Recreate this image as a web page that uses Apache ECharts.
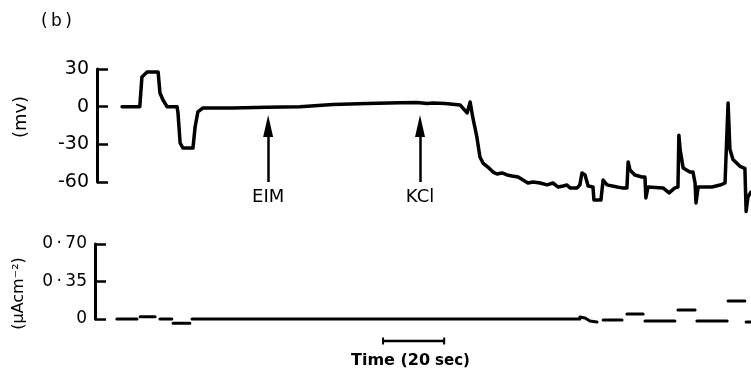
<!DOCTYPE html>
<html><head><meta charset="utf-8">
<script src="https://cdn.jsdelivr.net/npm/echarts@6/dist/echarts.min.js"></script>
<style>html,body{margin:0;padding:0;background:#fff}#c{width:751px;height:374px}</style>
</head><body><div id="c"></div>
<script>
// Top trace: membrane potential (mV) vs time (s)
const timeTop = [0.2,6.0,6.7,8.4,12.0,12.6,13.6,14.9,18.2,18.5,19.2,20.1,23.4,24.1,25.0,26.7,36.5,47.6,58.4,69.2,80.4,91.1,96.7,100.0,101.9,105.9,110.8,113.1,114.1,115.0,116.3,117.3,118.3,119.9,121.6,122.9,124.5,126.2,127.8,129.8,131.4,133.0,134.7,137.0,139.3,141.2,142.9,144.5,145.8,146.8,149.1,150.0,150.7,151.7,152.7,154.3,154.6,156.9,157.6,158.9,162.2,163.8,165.4,165.8,166.4,168.0,170.3,171.3,171.6,172.3,177.2,179.2,181.1,182.1,182.4,182.8,183.8,186.0,187.0,187.7,188.0,188.7,193.2,195.9,197.5,198.5,199.1,200.1,202.4,204.0,204.4,205.0,206.0];
const mvTop = [0,0,23.7,27.6,27.6,10.9,5.3,0,0,-5,-28.9,-32.9,-32.9,-16.2,-4.2,-1.0,-1.0,-0.5,0,1.8,2.5,3.2,3.3,2.5,2.9,2.5,1.4,-5.0,3.7,-9.0,-24.1,-40.1,-44.9,-48.1,-52.1,-53.6,-52.8,-54.4,-55.2,-56.0,-58.4,-60.8,-60.0,-60.8,-62.3,-60.8,-64.0,-63.2,-62.4,-64.7,-64.7,-62.3,-52.8,-54.4,-63.2,-64.0,-74.3,-74.3,-58.4,-62.3,-64.0,-64.7,-64.7,-44.0,-50.4,-54.4,-56.0,-56.0,-72.7,-64.0,-64.7,-68.7,-64.7,-64.0,-22.7,-34.0,-48.8,-52.0,-52.0,-60.8,-76.7,-64.0,-64.0,-62.4,-60.8,2.9,-34.0,-42.0,-47.5,-49.1,-83.4,-71.9,-68.0];
// Bottom trace: current (μA cm^-2), null = gap between pen strokes
const timeBottom = [-1.5,5.1,null,6.1,11.0,null,12.6,16.5,null,16.9,22.4,null,23.1,150.0,null,150.0,151.7,153.3,155.6,null,157.6,163.8,null,165.4,170.7,null,171.3,181.1,null,182.1,187.7,null,188.3,198.2,null,198.5,204.0,null,204.4,206.0];
const currentBottom = [0,0,null,0.02,0.02,null,0,0,null,-0.04,-0.04,null,0,0,null,0.019,0.009,-0.019,-0.028,null,-0.01,-0.01,null,0.047,0.047,null,-0.019,-0.019,null,0.084,0.084,null,-0.019,-0.019,null,0.168,0.168,null,-0.028,-0.028];
const mvTicks = [-60,-30,0,30];
const currentTicks = [0,0.35,0.70];
const currentTickLabels = ['0','0\u2009·\u200935','0\u2009·\u200970'];
const arrowTimes = [48.0, 97.7];
const arrowLabels = ['EIM','KCl'];
const arrowFrom = -60, arrowTo = -15.4;
const scaleBar = [85.6, 105.6]; // 20 s
const FONT = 'DejaVu Sans';

const topData = timeTop.map((t,i)=>[t,mvTop[i]]);
const botData = timeBottom.map((t,i)=> t===null ? [null,null] : [t,currentBottom[i]]);

const chart = echarts.init(document.getElementById('c'), null, {renderer:'canvas'});
chart.setOption({
  animation:false,
  backgroundColor:'#fff',
  title:[
    {text:'(\u2009b\u2009)', left:36, top:8, textStyle:{fontFamily:FONT,fontSize:17,fontWeight:'normal',color:'#000'}},
    {text:'{a|Time (20} {b|sec)}', left:346, top:347,
     textStyle:{rich:{a:{fontFamily:FONT,fontSize:16,fontWeight:'bold',color:'#000'},b:{fontFamily:FONT,fontSize:15,color:'#000'}}}}
  ],
  grid:[
    {left:97, right:0, top:69, height:113},
    {left:95, right:0, top:244, height:75},
    {left:97, right:0, top:336, height:10}
  ],
  xAxis:[
    {type:'value', gridIndex:0, min:-8, max:206, show:false},
    {type:'value', gridIndex:1, min:-8.65, max:206, show:false},
    {type:'value', gridIndex:2, min:-8, max:206, show:false}
  ],
  yAxis:[
    {type:'value', gridIndex:0, min:-60, max:30, interval:30,
     name:'(mv)', nameLocation:'middle', nameGap:67,
     nameTextStyle:{fontFamily:FONT,fontSize:18,color:'#000',padding:[0,0,0,17]},
     axisLine:{show:true,onZero:false,lineStyle:{color:'#000',width:3}},
     axisTick:{show:true,inside:true,length:11,lineStyle:{color:'#000',width:2.5}},
     axisLabel:{color:'#000',fontFamily:FONT,fontSize:19,margin:8,
       formatter:v=> mvTicks.includes(v)? String(v):''},
     splitLine:{show:false}},
    {type:'value', gridIndex:1, min:0, max:0.70, interval:0.35,
     name:'(μAcm⁻²)', nameLocation:'middle', nameGap:68,
     nameTextStyle:{fontFamily:FONT,fontSize:16,color:'#000',padding:[0,24,0,0]},
     axisLine:{show:true,onZero:false,lineStyle:{color:'#000',width:3}},
     axisTick:{show:true,inside:true,length:11,lineStyle:{color:'#000',width:2.5}},
     axisLabel:{color:'#000',fontFamily:FONT,fontSize:17,margin:8,
       formatter:(v,i)=> currentTickLabels[i] !== undefined ? currentTickLabels[i] : ''},
     splitLine:{show:false}},
    {type:'value', gridIndex:2, min:0, max:1, show:false}
  ],
  series:[
    {type:'line', xAxisIndex:0, yAxisIndex:0, data:topData, symbol:'none', clip:false,
     lineStyle:{color:'#000',width:3.5,join:'round',cap:'round'},
     markLine:{silent:true, animation:false,
       lineStyle:{color:'#000',width:2.5,type:'solid'},
       label:{show:true, position:'start', distance:6, color:'#000', fontFamily:FONT, fontSize:18, formatter:p=>p.name},
       data: arrowTimes.map((t,i)=>[
         {name:arrowLabels[i], coord:[t,arrowFrom], symbol:'none'},
         {coord:[t,arrowTo], symbol:'triangle', symbolSize:[10,22]}
       ])}
    },
    {type:'line', xAxisIndex:1, yAxisIndex:1, data:botData, symbol:'none', clip:false, connectNulls:false,
     lineStyle:{color:'#000',width:3,cap:'round'}},
    {type:'line', xAxisIndex:2, yAxisIndex:2, data:scaleBar.map(t=>[t,0.5]), symbol:'rect', symbolSize:[2,7],
     itemStyle:{color:'#000'}, lineStyle:{color:'#000',width:2.5}}
  ]
});
</script></body></html>
